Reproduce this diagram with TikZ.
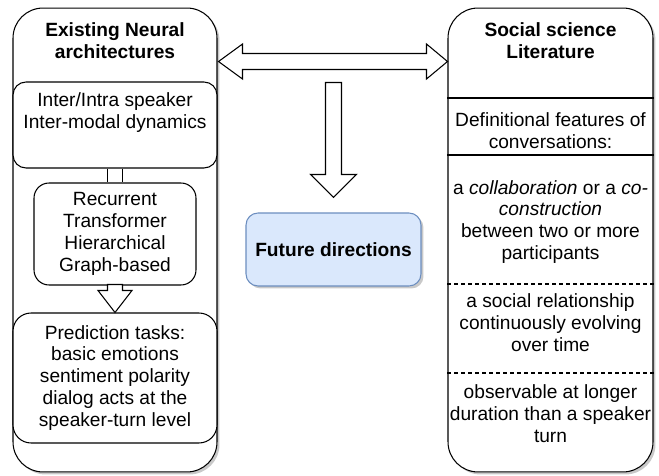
\documentclass[tikz,border=0pt]{standalone}
\usepackage{fontspec}
\setmainfont{Liberation Sans}
\usetikzlibrary{
    positioning,
    calc,
    shadows
}
\definecolor{future fill}{HTML}{DAE8FC}
\definecolor{future line}{HTML}{6C8EBF}
\tikzset{
    % Lines and shadows
    box line/.style={line width=0.6pt},
    soft shadow/.style={drop shadow={shadow xshift=0.05cm,shadow yshift=-0.05cm,opacity=.3,fill=black!70}},
    short dashes/.style={dash pattern=on 0.08cm off 0.06cm},
    %
    % Boxes
    column box/.style={draw,box line,fill=white,rounded corners=0.6cm,minimum width=4.08cm,minimum height=9.28cm,soft shadow},
    inner box/.style={draw,box line,fill=white,align=center,rounded corners=#1},
    inner box/.default=0.26cm,
    future box/.style={draw=future line,box line,fill=future fill,rounded corners=0.24cm,minimum width=3.5cm,minimum height=1.46cm,font=\fontsize{10.9}{12.5}\selectfont\bfseries,soft shadow},
    head text/.style={align=center,font=\fontsize{10.9}{12.5}\selectfont\bfseries},
    body text/.style={align=center,inner sep=0pt},
    %
    % Block arrows
    block arrow/.style={draw,box line,fill=white,line join=miter}
}
\tikzstyle{every node}=[font=\fontsize{10.9}{12.5}\selectfont]

\begin{document}
\begin{tikzpicture}[x=0.02cm,y=-0.02cm]
    \useasboundingbox (0,0) rectangle (659,476);
    % the two columns
    \node[column box] (neural) at (115,240) {};
    \node[column box,minimum width=4.1cm] (social) at (550.5,240) {};
    \node[head text] (neuralhead) at (115,41) {Existing Neural\\architectures};
    \node[head text] (socialhead) at (550.5,41) {Social science\\Literature};
    % left column
    \node[inner box,minimum width=4.08cm,minimum height=1.72cm] (dyn) at (115,125) {Inter/Intra speaker\\Inter-modal dynamics\\\strut};
    \node[inner box=0.3cm,minimum width=3.24cm,minimum height=2.04cm] (arch) at (115,234) {Recurrent\\Transformer\\Hierarchical\\Graph-based};
    \node[inner box=0.36cm,minimum width=4.08cm,minimum height=2.6cm] (pred) at (115,378) {Prediction tasks:\\basic emotions\\sentiment polarity\\dialog acts at the\\speaker-turn level};
    \draw[box line] ($(dyn.south)+(-7.5,0)$) -- ($(arch.north)+(-7.5,0)$);
    \draw[box line] ($(dyn.south)+(7.5,0)$) -- ($(arch.north)+(7.5,0)$);
    \draw[block arrow] (pred.north) -- ++(-17,-22) -- ++(9.5,0) -- ++(0,-6) -- ++(15,0) -- ++(0,6) -- ++(9.5,0) -- cycle;
    % right column
    \foreach \y/\s in {98/solid,155/solid,284/short dashes,373/short dashes}
        \draw[box line,\s] (social.west |- 0,\y) -- (social.east |- 0,\y);
    \node[body text] (features) at (550.5,131) {Definitional features of\\conversations:};
    \node[body text] (collab) at (550.5,222) {a \textit{collaboration} or a \textit{co-}\\\textit{construction}\\between two or more\\participants};
    \node[body text] (relation) at (550.5,323) {a social relationship\\continuously evolving\\over time};
    \node[body text] (duration) at (550.5,414) {observable at longer\\duration than a speaker\\turn};
    % middle
    \node[future box] (future) at (333.5,249.5) {Future directions};
    \coordinate (dl) at ($(neural.north east)+(1,54)$);
    \coordinate (dr) at ($(social.north west)+(0,54)$);
    \draw[block arrow] (dl) -- ($(dl)+(24,-17.5)$) -- ($(dl)+(24,-8)$) -- ($(dr)+(-21,-8)$) -- ($(dr)+(-21,-17.5)$) -- (dr)
        -- ($(dr)+(-21,17.5)$) -- ($(dr)+(-21,8)$) -- ($(dl)+(24,8)$) -- ($(dl)+(24,17.5)$) -- cycle;
    \coordinate (ftip) at ($(future.north)+(0,-15)$);
    \draw[block arrow] (ftip) -- ++(-23,-23) -- ++(15,0) -- ++(0,-92) -- ++(16,0) -- ++(0,92) -- ++(15,0) -- cycle;
\end{tikzpicture}
\end{document}
